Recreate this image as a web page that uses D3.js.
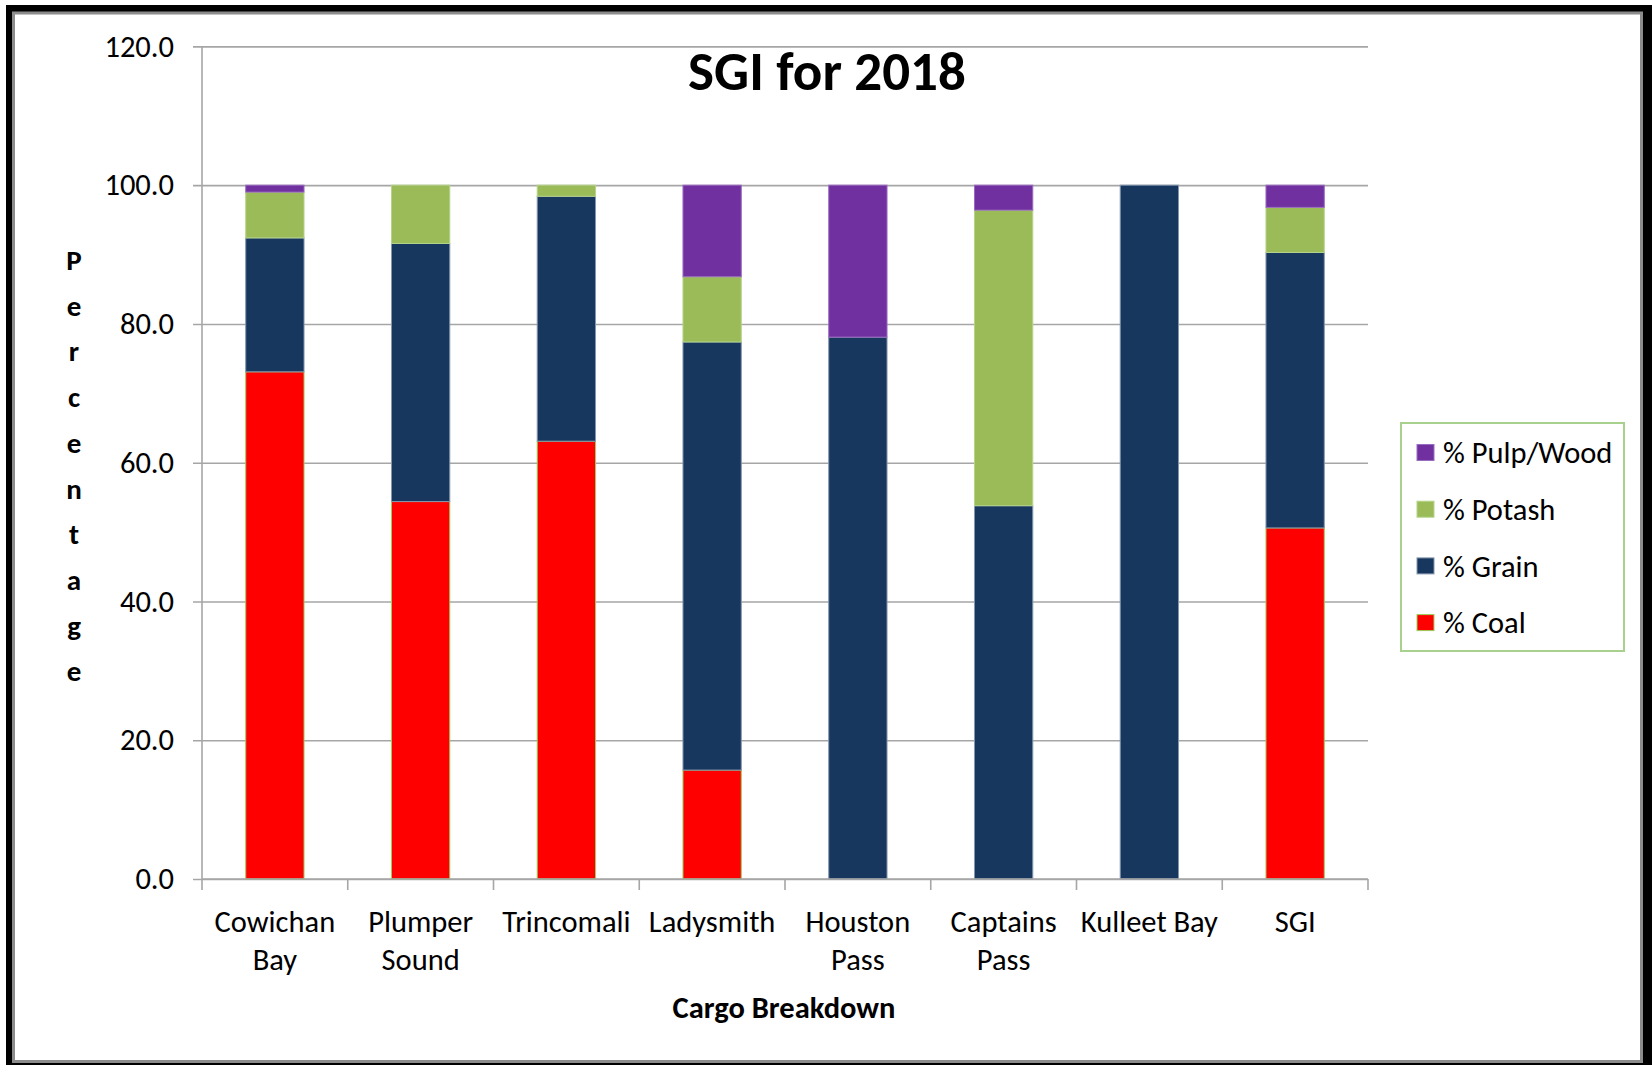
<!DOCTYPE html>
<html>
<head>
<meta charset="utf-8">
<script src="https://cdn.jsdelivr.net/npm/d3@7"></script>
<style>
  html, body { margin: 0; padding: 0; background: #fff; }
  svg { display: block; }
  text { font-family: Carlito, Calibri, Lato, sans-serif; fill: #000; }
</style>
</head>
<body>
<div id="chart"></div>
<script>
// cargo share per port, percent
var categories = ["Cowichan Bay", "Plumper Sound", "Trincomali", "Ladysmith", "Houston Pass", "Captains Pass", "Kulleet Bay", "SGI"];
var categoryLines = [["Cowichan", "Bay"], ["Plumper", "Sound"], ["Trincomali"], ["Ladysmith"], ["Houston", "Pass"], ["Captains", "Pass"], ["Kulleet Bay"], ["SGI"]];
var coal   = [73.1, 54.4, 63.1, 15.7, 0, 0, 0, 50.6];
var grain  = [19.3, 37.2, 35.3, 61.7, 78.1, 53.8, 100, 39.7];
var potash = [6.6, 8.4, 1.6, 9.4, 0, 42.6, 0, 6.5];
var pulp   = [1.0, 0, 0, 13.2, 21.9, 3.6, 0, 3.2];
var seriesKeys = ["coal", "grain", "potash", "pulp"];
var seriesNames = ["% Coal", "% Grain", "% Potash", "% Pulp/Wood"];
var yTicks = [0, 20, 40, 60, 80, 100, 120];

var colors = { coal: "#ff0000", grain: "#17375e", potash: "#9bbb59", pulp: "#7030a0" };
var edges = { coal: "#9bcf5a", grain: "#8596ad", potash: "#b5d48a", pulp: "#9a6cc0" };

var svgWidth = 1652, svgHeight = 1065;
var plot = { left: 202, right: 1368, top: 46.4, bottom: 879 };
var labelSize = "30.5px";

var svg = d3.select("#chart").append("svg")
    .attr("width", svgWidth)
    .attr("height", svgHeight);

// frame
svg.append("rect")
    .attr("x", 6).attr("y", 5)
    .attr("width", svgWidth - 6).attr("height", svgHeight - 5)
    .attr("fill", "#000");
svg.append("rect")
    .attr("x", 13.5).attr("y", 13)
    .attr("width", 1641.5 - 13.5).attr("height", 1061.5 - 13)
    .attr("fill", "#fff")
    .attr("stroke", "#8c8c8c")
    .attr("stroke-width", 3);

var rows = categories.map(function (c, i) {
    return { name: c, coal: coal[i], grain: grain[i], potash: potash[i], pulp: pulp[i] };
});

var xScale = d3.scaleBand()
    .domain(categories)
    .range([plot.left, plot.right])
    .paddingInner(0.6)
    .paddingOuter(0.3);

var yScale = d3.scaleLinear()
    .domain([0, 120])
    .range([plot.bottom, plot.top]);

// gridlines + y ticks
var leftAxis = d3.axisLeft(yScale)
    .tickValues(yTicks)
    .tickFormat(d3.format(".1f"))
    .tickSize(-(plot.right - plot.left))
    .tickPadding(28);

var yAxisG = svg.append("g")
    .attr("transform", `translate(${plot.left}, 0)`)
    .call(leftAxis);
yAxisG.select(".domain").remove();
yAxisG.selectAll(".tick line")
    .attr("x1", -9)
    .attr("stroke", "#a6a6a6")
    .attr("stroke-width", 1.6);
yAxisG.selectAll(".tick text")
    .style("font-size", labelSize)
    .attr("fill", "#000");

// y axis line
svg.append("line")
    .attr("x1", plot.left).attr("x2", plot.left)
    .attr("y1", plot.top).attr("y2", plot.bottom)
    .attr("stroke", "#a6a6a6")
    .attr("stroke-width", 1.6);

// stacked bars
var stacked = d3.stack().keys(seriesKeys)(rows);

svg.append("g").selectAll("g")
    .data(stacked)
    .enter()
    .append("g")
    .attr("fill", d => colors[d.key])
    .attr("stroke", d => edges[d.key])
    .attr("stroke-width", 1)
    .selectAll("rect")
    .data(d => d.filter(p => p[1] - p[0] > 0))
    .enter()
    .append("rect")
    .attr("x", d => xScale(d.data.name))
    .attr("width", xScale.bandwidth())
    .attr("y", d => yScale(d[1]))
    .attr("height", d => yScale(d[0]) - yScale(d[1]));

// x axis
svg.append("line")
    .attr("x1", plot.left).attr("x2", plot.right)
    .attr("y1", plot.bottom).attr("y2", plot.bottom)
    .attr("stroke", "#a6a6a6")
    .attr("stroke-width", 1.6);

var step = xScale.step();
var boundaries = d3.range(categories.length + 1).map(i => plot.left + i * step);
svg.append("g").selectAll("line")
    .data(boundaries)
    .enter()
    .append("line")
    .attr("x1", d => d).attr("x2", d => d)
    .attr("y1", plot.bottom).attr("y2", plot.bottom + 11)
    .attr("stroke", "#a6a6a6")
    .attr("stroke-width", 1.6);

var catLabels = svg.append("g").selectAll("text")
    .data(categories)
    .enter()
    .append("text")
    .attr("text-anchor", "middle")
    .style("font-size", labelSize)
    .attr("y", 932);

catLabels.selectAll("tspan")
    .data((d, i) => categoryLines[i].map(l => ({ line: l, cat: d })))
    .enter()
    .append("tspan")
    .attr("x", d => xScale(d.cat) + xScale.bandwidth() / 2)
    .attr("dy", (d, j) => j === 0 ? 0 : 38)
    .text(d => d.line);

// title
svg.append("text")
    .attr("x", 827)
    .attr("y", 90)
    .attr("text-anchor", "middle")
    .style("font-size", "55px")
    .style("font-weight", "bold")
    .text("SGI for 2018");

// axis titles
svg.append("text")
    .attr("x", 784)
    .attr("y", 1018)
    .attr("text-anchor", "middle")
    .style("font-size", "30.5px")
    .style("font-weight", "bold")
    .text("Cargo Breakdown");

svg.append("g").selectAll("text")
    .data("Percentage".split(""))
    .enter()
    .append("text")
    .attr("x", 74)
    .attr("y", (d, i) => 270 + i * 45.7)
    .attr("text-anchor", "middle")
    .style("font-size", "29px")
    .style("font-weight", "bold")
    .text(d => d);

// legend
var legend = svg.append("g");
legend.append("rect")
    .attr("x", 1401).attr("y", 423)
    .attr("width", 223).attr("height", 228)
    .attr("fill", "#fff")
    .attr("stroke", "#a9d18e")
    .attr("stroke-width", 2);

var legendOrder = seriesKeys.slice().reverse();
var legendItems = legend.selectAll("g.item")
    .data(legendOrder)
    .enter()
    .append("g")
    .attr("class", "item")
    .attr("transform", (d, i) => `translate(1417, ${452.5 + i * 56.7})`);

legendItems.append("rect")
    .attr("x", 0).attr("y", -8)
    .attr("width", 17).attr("height", 16)
    .attr("fill", d => colors[d])
    .attr("stroke", d => edges[d])
    .attr("stroke-width", 1);

legendItems.append("text")
    .attr("x", 26)
    .attr("dy", "0.35em")
    .style("font-size", labelSize)
    .text(d => seriesNames[seriesKeys.indexOf(d)]);
</script>
</body>
</html>
